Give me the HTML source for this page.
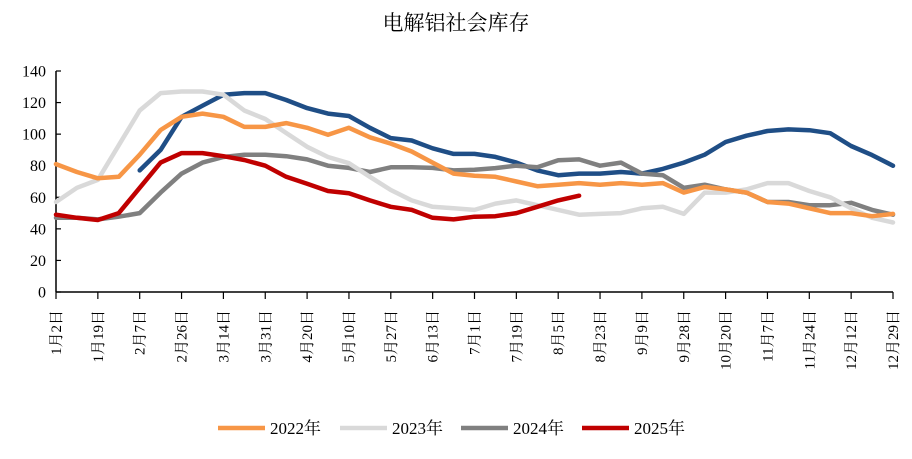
<!DOCTYPE html>
<html><head><meta charset="utf-8"><style>
body{margin:0;background:#fff;}
svg text{font-family:"Liberation Serif","Noto Serif CJK SC",serif;fill:#000;}
</style></head><body>
<svg id="chart" width="912" height="454" xmlns="http://www.w3.org/2000/svg">
<text x="456" y="30" font-size="21" text-anchor="middle">电解铝社会库存</text>
<g id="grid"></g><g id="series"></g><g id="legend"></g>
</svg>
<script>
const xLabels=["1月2日","1月19日","2月7日","2月26日","3月14日","3月31日","4月20日","5月10日","5月27日","6月13日","7月1日","7月19日","8月5日","8月23日","9月9日","9月28日","10月20日","11月7日","11月24日","12月12日","12月29日"];
const yTicks=[0,20,40,60,80,100,120,140];
const s2021=[null,null,null,null,77,90,111,118,125,126,126,121.6,116.5,113,111.5,104,97.5,96,91,87.5,87.5,85.6,82,77,74,75,75,76,75,78,82,87,95,99,102,103,102.5,100.6,92.5,86.7,80];
const s2022=[81,76,72,73,87,102.6,111,113,111,104.6,104.6,107,104,99.6,104,98,94,89,82,75,73.7,73,70,67,68,69,68,69,68,69,63,66.5,65,63,57,56,53,50,50,48,49.5];
const s2023=[57,66,71,93,115,126,127,127,125,115,109.6,100.7,92,85.5,81.6,73,64.6,58,54,53,52,56,58,55,52,49,49.5,50,53,54,49.5,63,63,65,69,69,64,60,53,47,44];
const s2024=[47,47,46,47.7,50,63,75,82,85.5,87,87,86,84,80,78.6,76,79,79,78.6,77,77.5,78.5,80,79,83.5,84,80,82,75,74,66,68,65,63,57,57,55,55,56.5,52,49];
const s2025=[49,47,45.6,50,66,82,88,88,86,83.6,80,73,68.6,64,62.6,58,54,52,47,46,47.7,48,50,54,58,61];
const X0=56,X1=893,Y0=292,YT=71;
const xs=i=>X0+(X1-X0)*i/40;
const ys=v=>Y0-(Y0-YT)*v/140;
const NS="http://www.w3.org/2000/svg";
const grid=document.getElementById('grid'),ser=document.getElementById('series'),leg=document.getElementById('legend');
function mk(tag,attrs,parent){const e=document.createElementNS(NS,tag);for(const k in attrs)e.setAttribute(k,attrs[k]);parent.appendChild(e);return e;}
let ax=mk('line',{x1:X0,y1:YT,x2:X0,y2:Y0,stroke:'#000','stroke-width':1.5},grid);


let bx=mk('line',{x1:X0,y1:Y0,x2:X1,y2:Y0,stroke:'#000','stroke-width':1.5},grid);


yTicks.forEach(v=>{
 mk('line',{x1:X0,y1:ys(v),x2:X0+5,y2:ys(v),stroke:'#000','stroke-width':1.2},grid);
 const t=mk('text',{x:X0-10,y:ys(v)+5.5,'font-size':16,'text-anchor':'end'},grid);
 t.textContent=v;
 
 
});
xLabels.forEach((l,i)=>{
 const x=xs(i*2);
 mk('line',{x1:x,y1:Y0,x2:x,y2:Y0+7,stroke:'#000','stroke-width':1.2},grid);
 const t=mk('text',{x:0,y:0,'font-size':15,'text-anchor':'end',transform:`translate(${x+5},310) rotate(-90)`},grid);
 t.textContent=l;
 
 
});
const series=[[s2021,'#1f4e86',null],[s2024,'#808080','2024年'],[s2023,'#d9d9d9','2023年'],[s2022,'#f79646','2022年'],[s2025,'#c00000','2025年']];
series.forEach(([d,c,n])=>{
 let p='';d.forEach((v,i)=>{if(v==null)return;p+=(p?'L':'M')+xs(i).toFixed(1)+','+ys(v).toFixed(1);});
 const e=mk('path',{d:p,fill:'none',stroke:c,'stroke-width':4.5,'stroke-linejoin':'round','stroke-linecap':'round'},ser);
 
 
});
const legItems=[['2022年','#f79646',218],['2023年','#d9d9d9',340],['2024年','#808080',461],['2025年','#c00000',582]];
legItems.forEach(([n,c,x])=>{
 const g=mk('g',{},leg);
 
 
 mk('line',{x1:x,y1:428,x2:x+47,y2:428,stroke:c,'stroke-width':4.5},g);
 const t=mk('text',{x:x+52,y:434,'font-size':17},g);
 t.textContent=n;
});
</script>
</body></html>
